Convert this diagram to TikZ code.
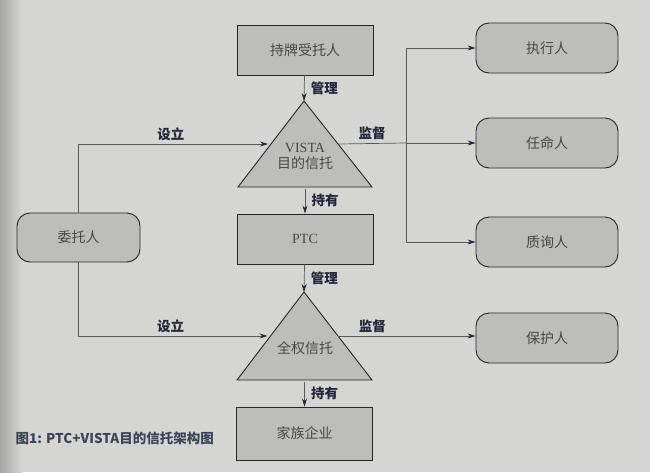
\documentclass[tikz,border=0pt]{standalone}
\usepackage{fontspec}
\setmainfont{Liberation Serif}
\newfontfamily\cjk{Noto Sans CJK SC}
\usetikzlibrary{arrows.meta,calc}
\definecolor{paper}{HTML}{D5D5D3}
\definecolor{boxgray}{HTML}{BDBDBB}
\definecolor{ink}{HTML}{26263A}
\definecolor{capink}{HTML}{3A4658}
\tikzset{
  box/.style={draw=black!85, fill=boxgray, line width=0.9pt, minimum width=136pt, minimum height=50pt,
    text=black!72, font=\cjk\fontsize{14}{16}\selectfont},
  roundbox/.style={box, rounded corners=13pt, minimum width=142pt},
  trust/.style={draw=black!85, fill=boxgray, line width=0.9pt},
  wire/.style={draw=black!65, line width=0.7pt},
  link/.style={wire, -{Stealth[length=8pt,width=5pt,color=ink]}},
  tag/.style={text=ink, font=\cjk\bfseries\fontsize{13.5}{15}\selectfont}
}
\begin{document}
\begin{tikzpicture}[x=1pt, y=-1pt]
  % paper
  \useasboundingbox (0,0) rectangle (650,472);
  \fill[paper] (0,0) rectangle (650,472);
  \shade[left color=black!35, right color=paper] (0,0) rectangle (22,472);
  % boxes
  \node[box] (holder) at (305,50) {持牌受托人};
  \node[box, font=\fontsize{14}{16}\selectfont] (ptc) at (305,239) {PTC};
  \node[box, minimum height=53pt] (family) at (304.5,433.5) {家族企业};
  \node[roundbox, minimum width=123pt, minimum height=49pt] (settlor) at (78.5,237.5) {委托人};
  \node[roundbox] (exec) at (547,48) {执行人};
  \node[roundbox] (appoint) at (547,143) {任命人};
  \node[roundbox] (inquire) at (547,242) {质询人};
  \node[roundbox] (protect) at (547,338) {保护人};
  % VISTA trust
  \coordinate (v top) at (304,101);
  \coordinate (v left) at (238,187);
  \coordinate (v right) at (372,187);
  \draw[trust] (v top) -- (v right) -- (v left) -- cycle;
  \coordinate (v base) at ($(v left)!0.5!(v right)$);
  \coordinate (v in) at ($(v top)!0.5!(v left)$);
  \coordinate (v out) at ($(v top)!0.5!(v right)$);
  \node[align=center, text=black!72, font=\fontsize{14}{16}\selectfont] (vista) at (305,156) {VISTA\\{\cjk 目的信托}};
  % discretionary trust
  \coordinate (p top) at (304,292);
  \coordinate (p left) at (237,380);
  \coordinate (p right) at (372,380);
  \draw[trust] (p top) -- (p right) -- (p left) -- cycle;
  \coordinate (p base) at ($(p left)!0.5!(p right)$);
  \coordinate (p in) at ($(p top)!0.5!(p left)$);
  \coordinate (p out) at ($(p top)!0.5!(p right)$);
  \node[text=black!72, font=\cjk\fontsize{14}{16}\selectfont] (discretion) at (305,348) {全权信托};
  % links down the middle
  \draw[link] (holder) -- node[tag, right=3pt] (manage1) {管理} (v top);
  \draw[link, shorten <=2pt] (v base) -- node[tag, right=3pt] (own1) {持有} (ptc);
  \draw[link] (ptc) -- node[tag, right=3pt] (manage2) {管理} (p top);
  \draw[link, shorten <=2pt] (p base) -- node[tag, right=3pt] (own2) {持有} (family);
  % settlor
  \draw[link, shorten >=3pt] (settlor) |- node[tag, above, pos=0.74] (setup1) {设立} (v in);
  \draw[link, shorten >=3pt] (settlor) |- node[tag, above, pos=0.74] (setup2) {设立} (p in);
  % supervision
  \coordinate (split) at (406,143);
  \draw[wire] (v out) -- node[tag, above] (watch1) {监督} (split);
  \draw[link] (split) |- (exec);
  \draw[link] (split) -- (appoint);
  \draw[link] (split) |- (inquire);
  \draw[link] (p out) -- node[tag, above, pos=0.25] (watch2) {监督} (p out -| protect.west);
  % caption
  \node[anchor=west, text=capink, font=\cjk\bfseries\fontsize{13.5}{15}\selectfont] (caption) at (12,438) {图1: PTC+VISTA目的信托架构图};
\end{tikzpicture}
\end{document}
